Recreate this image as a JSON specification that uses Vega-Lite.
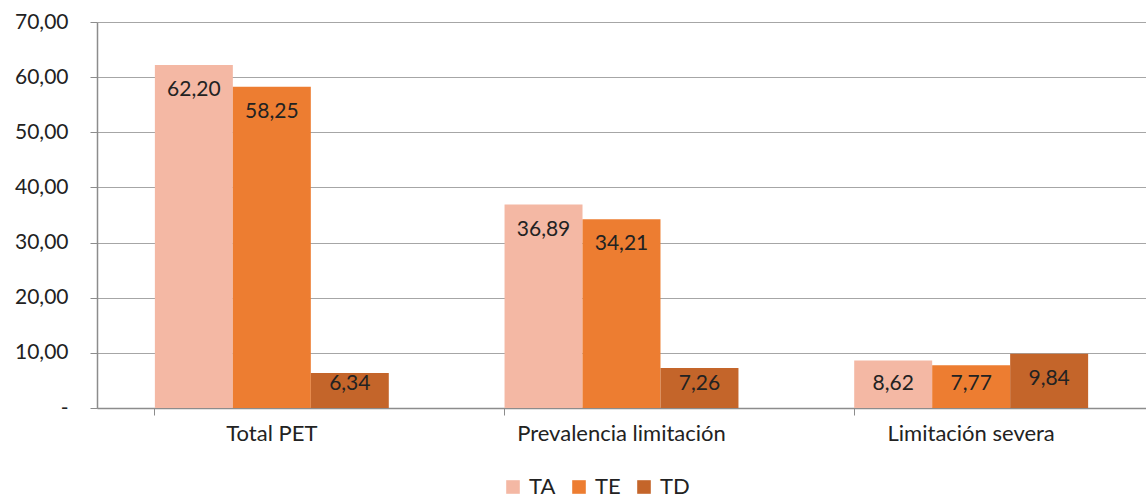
{
  "$schema": "https://vega.github.io/schema/vega-lite/v6.json",
  "width": 1049,
  "height": 386,
  "autosize": {"type": "none"},
  "padding": {"left": 97, "top": 22, "right": 0, "bottom": 91},
  "background": "white",
  "config": {
    "font": "Lato",
    "view": {"stroke": null},
    "locale": {"number": {"decimal": ",", "thousands": ".", "grouping": [3], "currency": ["", " €"]}}
  },
  "data": {
    "values": [
      {"grupo": "Total PET", "serie": "TA", "valor": 62.20},
      {"grupo": "Total PET", "serie": "TE", "valor": 58.25},
      {"grupo": "Total PET", "serie": "TD", "valor": 6.34},
      {"grupo": "Prevalencia limitación", "serie": "TA", "valor": 36.89},
      {"grupo": "Prevalencia limitación", "serie": "TE", "valor": 34.21},
      {"grupo": "Prevalencia limitación", "serie": "TD", "valor": 7.26},
      {"grupo": "Limitación severa", "serie": "TA", "valor": 8.62},
      {"grupo": "Limitación severa", "serie": "TE", "valor": 7.77},
      {"grupo": "Limitación severa", "serie": "TD", "valor": 9.84}
    ]
  },
  "encoding": {
    "x": {
      "field": "grupo",
      "type": "nominal",
      "sort": ["Total PET", "Prevalencia limitación", "Limitación severa"],
      "scale": {"paddingInner": 0.331, "paddingOuter": 0.1655},
      "axis": {
        "title": null,
        "labelAngle": 0,
        "labelFontSize": 22,
        "labelFontWeight": "normal",
        "labelColor": "#222222",
        "labelPadding": 8,
        "labelLimit": 0,
        "domainColor": "#8c8c8c",
        "domainWidth": 1.5,
        "tickColor": "#8c8c8c",
        "tickSize": 7,
        "bandPosition": 0,
        "grid": false
      }
    },
    "xOffset": {
      "field": "serie",
      "type": "nominal",
      "sort": ["TA", "TE", "TD"],
      "scale": {"paddingInner": 0, "paddingOuter": 0}
    },
    "y": {
      "field": "valor",
      "type": "quantitative",
      "scale": {"domain": [0, 70], "nice": false},
      "axis": {
        "title": null,
        "values": [0, 10, 20, 30, 40, 50, 60, 70],
        "labelExpr": "datum.value == 0 ? '-' : format(datum.value, '.2f')",
        "labelFontSize": 21,
        "labelFontWeight": "normal",
        "labelColor": "#222222",
        "labelPadding": 22,
        "domainColor": "#8c8c8c",
        "domainWidth": 1.5,
        "tickColor": "#8c8c8c",
        "tickSize": 7,
        "gridColor": "#a6a6a6",
        "gridWidth": 1.2
      }
    }
  },
  "layer": [
    {
      "mark": {"type": "bar"},
      "encoding": {
        "color": {
          "field": "serie",
          "type": "nominal",
          "sort": ["TA", "TE", "TD"],
          "scale": {"domain": ["TA", "TE", "TD"], "range": ["#F4B8A4", "#ED7D31", "#C4652A"]},
          "legend": {
            "title": null,
            "orient": "none",
            "legendX": 405,
            "legendY": 454,
            "direction": "horizontal",
            "symbolType": "square",
            "symbolSize": 185,
            "symbolStrokeWidth": 0,
            "labelFontSize": 22,
            "labelFontWeight": "normal",
            "labelColor": "#222222",
            "columnPadding": 12,
            "labelOffset": 5
          }
        }
      }
    },
    {
      "mark": {
        "type": "text",
        "baseline": "middle",
        "dy": {"expr": "min(25, 386 - scale('y', datum.valor) - 24)"},
        "fontSize": 21,
        "fontWeight": "normal",
        "color": "#222222"
      },
      "encoding": {
        "text": {"field": "valor", "type": "quantitative", "format": ".2f"}
      }
    }
  ]
}
